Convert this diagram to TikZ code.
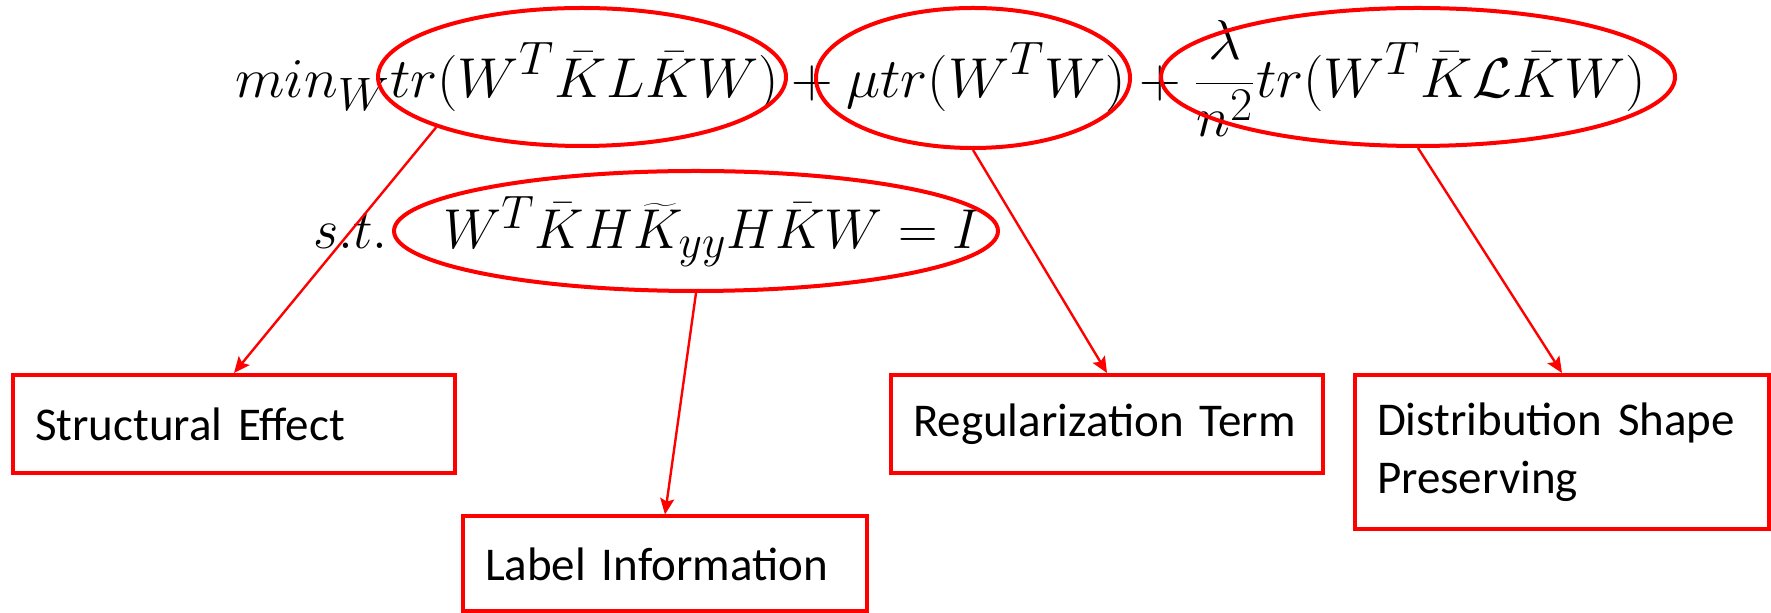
\documentclass[tikz,border=0pt]{standalone}
\usepackage{fontspec}
\newfontfamily\carlito{Carlito}
\usetikzlibrary{shapes.geometric,arrows.meta}
\definecolor{pptred}{RGB}{255,0,0}
\newcommand{\bigeq}[2]{\scalebox{#1}[1.13]{\fontsize{24.88}{30}\selectfont #2}}
\begin{document}
\begin{tikzpicture}[x=0.5pt,y=-0.5pt,
  ell/.style={ellipse,draw=pptred,line width=2pt,inner sep=0pt},
  lbl/.style={draw=pptred,line width=2pt,rectangle,align=left,inner xsep=11pt,inner ysep=0pt,font=\carlito\fontsize{23.5}{29}\selectfont},
  conn/.style={draw=pptred,line width=1.2pt,-{Stealth[length=8pt,width=7pt,inset=1.5pt]}},
  eq/.style={inner sep=0pt,anchor=base west}]
\useasboundingbox (0,0) rectangle (1771,613);
% formulas
\node[eq] (f1) at (235,98) {\bigeq{1.16}{$\displaystyle min_W tr(W^T\bar{K}L\bar{K}W)+\mu tr(W^TW)+\frac{\lambda}{n^2}tr(W^T\bar{K}\mathcal{L}\bar{K}W)$}};
\node[eq] (st) at (313,249) {\bigeq{1.10}{$s.t.$}};
\node[eq] (f2) at (443,249) {\bigeq{1.10}{$W^T\bar{K}H\widetilde{K}_{yy}H\bar{K}W=I$}};
% ellipses
\node[ell,minimum width=204pt,minimum height=69pt] (e1) at (582,77) {};
\node[ell,minimum width=157pt,minimum height=70pt] (e2) at (973,78) {};
\node[ell,minimum width=257pt,minimum height=69pt] (e3) at (1418,77) {};
\node[ell,minimum width=302pt,minimum height=60pt] (e4) at (696,231) {};
% boxes
\node[lbl,minimum width=221pt,minimum height=49pt,text width=199pt] (b1) at (234,424) {Structural Effect};
\node[lbl,minimum width=202pt,minimum height=47.5pt,text width=180pt] (b2) at (665,564) {Label Information};
\node[lbl,minimum width=216pt,minimum height=49pt,text width=194pt] (b3) at (1107,424) {Regularization~Term};
\node[lbl,minimum width=207pt,minimum height=77pt,text width=185pt] (b4) at (1562,452) {Distribution Shape\\Preserving};
% connectors
\draw[conn] (e1.199) -- (b1.north);
\draw[conn] (e4.south) -- (b2.north);
\draw[conn] (e2.south) -- (b3.north);
\draw[conn] (e3.south) -- (b4.north);
\end{tikzpicture}
\end{document}
